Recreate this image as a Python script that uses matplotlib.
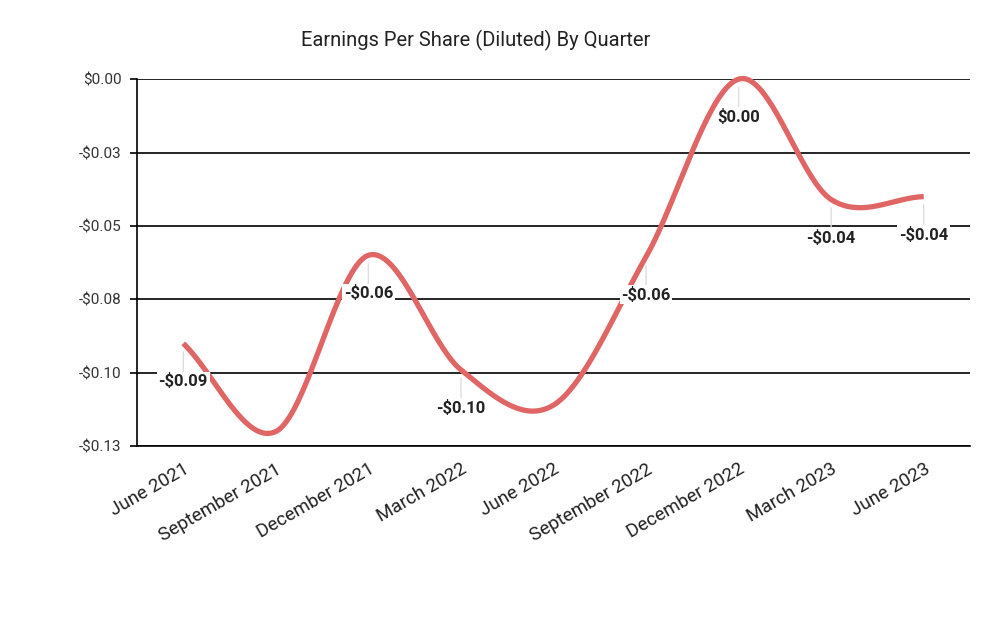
import numpy as np
import matplotlib
matplotlib.use("Agg")
from matplotlib import pyplot as plt

plt.rcParams['font.family'] = ['Roboto', 'DejaVu Sans']

# data
quarters = ['June 2021', 'September 2021', 'December 2021', 'March 2022', 'June 2022',
            'September 2022', 'December 2022', 'March 2023', 'June 2023']
eps = [-0.090, -0.120, -0.060, -0.099, -0.111, -0.0605, 0.000, -0.041, -0.040]
labelled = [True, False, True, True, False, True, True, True, True]
yticks = [0.0, -0.025, -0.05, -0.075, -0.10, -0.125]
ytick_labels = ['$0.00', '-$0.03', '-$0.05', '-$0.08', '-$0.10', '-$0.13']


def smooth(xs, ys, n=40, t=0.5):
    # cardinal spline through the points, like the "smooth" line option in sheets
    xs = np.asarray(xs, dtype=float)
    ys = np.asarray(ys, dtype=float)
    px, py = [], []
    for i in range(len(xs) - 1):
        i0 = max(i - 1, 0)
        i3 = min(i + 2, len(xs) - 1)
        m1 = t * (ys[i + 1] - ys[i0]) / (xs[i + 1] - xs[i0])
        m2 = t * (ys[i3] - ys[i]) / (xs[i3] - xs[i])
        h = xs[i + 1] - xs[i]
        s = np.linspace(0, 1, n)
        h00 = 2 * s**3 - 3 * s**2 + 1
        h10 = s**3 - 2 * s**2 + s
        h01 = -2 * s**3 + 3 * s**2
        h11 = s**3 - s**2
        px.extend(xs[i] + s * h)
        py.extend(h00 * ys[i] + h10 * h * m1 * 2 + h01 * ys[i + 1] + h11 * h * m2 * 2)
    return np.array(px), np.array(py)


x = np.arange(len(quarters))
sx, sy = smooth(x, eps)

fig = plt.figure(figsize=(10, 6.18), dpi=100)
ax = fig.add_axes([0.137, 0.278, 0.833, 0.594])

ax.set_yticks(yticks)
ax.set_yticklabels(ytick_labels)
ax.set_ylim(-0.125, 0)
ax.set_xlim(-0.5, len(quarters) - 0.5)
ax.grid(axis='y', color='black', linewidth=1.2)
ax.set_axisbelow(True)

ax.plot(sx, sy, color='#e06666', linewidth=3.8, solid_capstyle='butt', clip_on=False, zorder=3)

for xi, v, show in zip(x, eps, labelled):
    if not show:
        continue
    txt = ('-$%.2f' % abs(v)) if v < -0.0005 else '$%.2f' % abs(v)
    ax.annotate(txt, xy=(xi, v), xytext=(0, -38), textcoords='offset pixels',
                ha='center', va='center', fontsize=12, fontweight='bold', color='#222222',
                bbox=dict(boxstyle='square,pad=0.1', fc='white', ec='none'),
                arrowprops=dict(arrowstyle='-', color='#dddddd', lw=1, shrinkA=0, shrinkB=6),
                zorder=4)

ax.set_xticks(x)
ax.set_xticklabels(quarters, rotation=30, ha='right', rotation_mode='anchor', fontsize=13.5, color='#222222')
ax.tick_params(axis='x', length=0, pad=10)
ax.tick_params(axis='y', length=5, width=1.2, labelsize=11, colors='black', labelcolor='#333333', pad=6)

for side in ['top', 'right']:
    ax.spines[side].set_visible(False)
for side in ['left', 'bottom']:
    ax.spines[side].set_linewidth(1.2)
    ax.spines[side].set_color('black')

fig.text(0.476, 0.935, 'Earnings Per Share (Diluted) By Quarter', ha='center', va='center',
         fontsize=14.5, color='#222222')

fig.savefig('out.png', dpi=100, facecolor='white')
